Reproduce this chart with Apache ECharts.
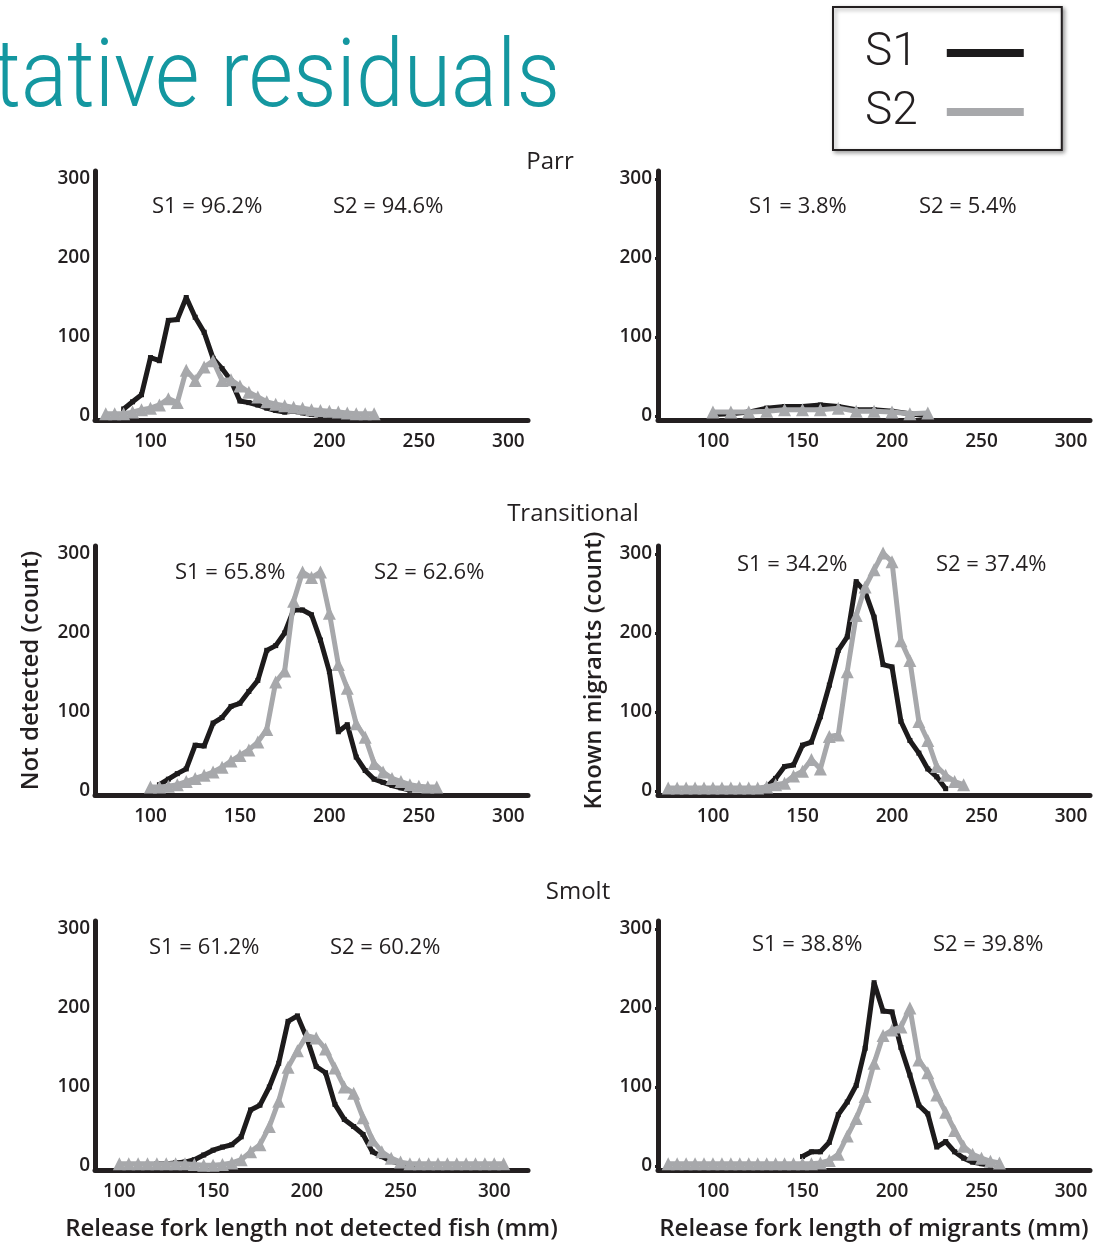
<!DOCTYPE html>
<html>
<head>
<meta charset="utf-8">
<script src="https://cdn.jsdelivr.net/npm/echarts@6.0.0/dist/echarts.min.js"></script>
<style>
html, body { margin: 0; padding: 0; background: #fff; }
#chart { width: 1097px; height: 1243px; }
</style>
</head>
<body>
<div id="chart"></div>
<script>
// fork length bins (mm) and counts
let parrNdBins = [75, 80, 85, 90, 95, 100, 105, 110, 115, 120, 125, 130, 135, 140, 145, 150, 155, 160, 165, 170, 175, 180, 185, 190, 195, 200, 205, 210, 215, 220, 225]
let parrNdS1 = [null, null, 9, 18, 27, 74, 70, 121, 122, 150, 125, 106, 73, 60, 45, 19, 17, 14, 10, 7, 5, 6, 4, 2, 1, 1, 0, 0, null, null, null]
let parrNdS2 = [3, 3, 3, 5, 8, 10, 14, 22, 17, 58, 45, 62, 70, 45, 46, 38, 30, 24, 18, 15, 13, 11, 10, 8, 7, 6, 5, 4, 3, 3, 3]

let parrMgBins = [100, 110, 120, 130, 140, 150, 160, 170, 180, 190, 200, 210, 220]
let parrMgS1 = [2, 3, 5, 10, 12, 12, 14, 12, 8, 8, 6, 3, 0]
let parrMgS2 = [5, 5, 5, 6, 8, 8, 8, 10, 6, 6, 5, 3, 4]

let tranNdBins = [100, 105, 110, 115, 120, 125, 130, 135, 140, 145, 150, 155, 160, 165, 170, 175, 180, 185, 190, 195, 200, 205, 210, 215, 220, 225, 230, 235, 240, 245, 250, 255, 260]
let tranNdS1 = [null, 8, 15, 22, 28, 58, 57, 86, 93, 107, 111, 126, 140, 178, 184, 200, 229, 229, 223, 191, 151, 75, 84, 43, 26, 15, 11, 7, 4, 1, null, null, null]
let tranNdS2 = [5, 5, 6, 8, 12, 16, 20, 24, 30, 38, 45, 52, 62, 78, 138, 152, 240, 277, 270, 277, 225, 160, 130, 85, 68, 35, 24, 16, 12, 8, 6, 5, 5]

let tranMgBins = [75, 80, 85, 90, 95, 100, 105, 110, 115, 120, 125, 130, 135, 140, 145, 150, 155, 160, 165, 170, 175, 180, 185, 190, 195, 200, 205, 210, 215, 220, 225, 230, 235, 240]
let tranMgS1 = [null, null, null, null, null, null, null, null, null, null, null, 5, 16, 31, 33, 58, 62, 94, 134, 178, 195, 265, 252, 220, 160, 157, 88, 64, 48, 28, 18, 3, null, null]
let tranMgS2 = [4, 4, 4, 4, 4, 4, 4, 4, 4, 4, 4, 5, 8, 10, 19, 25, 40, 28, 69, 71, 151, 222, 258, 280, 301, 290, 190, 165, 88, 64, 31, 20, 12, 8]

let smolNdBins = [100, 105, 110, 115, 120, 125, 130, 135, 140, 145, 150, 155, 160, 165, 170, 175, 180, 185, 190, 195, 200, 205, 210, 215, 220, 225, 230, 235, 240, 245, 250, 255, 260, 265, 270, 275, 280, 285, 290, 295, 300, 305]
let smolNdS1 = [null, null, null, null, 3, 3, 4, 5, 8, 14, 20, 24, 27, 37, 71, 77, 100, 130, 183, 190, 162, 126, 118, 78, 59, 50, 40, 18, 12, 6, 3, 1, 0, null, null, null, null, null, null, null, null, null]
let smolNdS2 = [3, 3, 3, 3, 3, 3, 3, 3, 2, 1, 1, 2, 4, 8, 18, 27, 50, 82, 125, 146, 165, 162, 148, 124, 100, 92, 61, 33, 18, 10, 5, 3, 3, 3, 3, 3, 3, 3, 3, 3, 3, 3]

let smolMgBins = [75, 80, 85, 90, 95, 100, 105, 110, 115, 120, 125, 130, 135, 140, 145, 150, 155, 160, 165, 170, 175, 180, 185, 190, 195, 200, 205, 210, 215, 220, 225, 230, 235, 240, 245, 250, 255, 260]
let smolMgS1 = [null, null, null, null, null, null, null, null, null, null, null, null, null, null, null, 12, 18, 18, 30, 65, 81, 102, 149, 232, 196, 195, 150, 115, 77, 66, 24, 31, 18, 10, 5, 3, 1, null]
let smolMgS2 = [3, 3, 3, 3, 3, 3, 3, 3, 3, 3, 3, 3, 3, 3, 3, 3, 3, 4, 7, 15, 38, 60, 88, 130, 165, 172, 176, 200, 134, 118, 90, 68, 45, 25, 15, 10, 6, 4]

let xTicks = [100, 150, 200, 250, 300]
let yTicks = [0, 100, 200, 300]
let stageNames = ['Parr', 'Transitional', 'Smolt']
let pctLabels = [
    ['S1 = 96.2%', 'S2 = 94.6%'], ['S1 = 3.8%', 'S2 = 5.4%'],
    ['S1 = 65.8%', 'S2 = 62.6%'], ['S1 = 34.2%', 'S2 = 37.4%'],
    ['S1 = 61.2%', 'S2 = 60.2%'], ['S1 = 38.8%', 'S2 = 39.8%']
]

let panels = [
    {bins: parrNdBins, s1: parrNdS1, s2: parrNdS2},
    {bins: parrMgBins, s1: parrMgS1, s2: parrMgS2},
    {bins: tranNdBins, s1: tranNdS1, s2: tranNdS2},
    {bins: tranMgBins, s1: tranMgS1, s2: tranMgS2},
    {bins: smolNdBins, s1: smolNdS1, s2: smolNdS2},
    {bins: smolMgBins, s1: smolMgS1, s2: smolMgS2}
]

// layout of the six plots
let boxes = [
    {left: 95, top: 171, width: 433, xMin: 69, xMax: 311},
    {left: 658, top: 171, width: 432, xMin: 69.3, xMax: 310.6},
    {left: 95, top: 546, width: 433, xMin: 69, xMax: 311},
    {left: 658, top: 546, width: 432, xMin: 69.3, xMax: 310.6},
    {left: 95, top: 921, width: 433, xMin: 87, xMax: 318},
    {left: 658, top: 921, width: 432, xMin: 69.3, xMax: 310.6}
]
let labelPos = [
    [[152, 207], [333, 207]], [[749, 207], [919, 207]],
    [[175, 573], [374, 573]], [[737, 565], [936, 565]],
    [[149, 948], [330, 948]], [[752, 945], [933, 945]]
]
let stagePos = [[550, 162], [573, 514], [578, 892]]

function pairs(bins, vals) {
    let out = []
    bins.forEach((b, i) => { if (vals[i] != null) out.push([b, vals[i]]) })
    return out
}

let tickFont = {fontFamily: 'Open Sans', fontSize: 19, fontWeight: 600, color: '#231f20'}
let nameFont = {fontFamily: 'Open Sans', fontSize: 24, fontWeight: 600, color: '#231f20'}

let grids = [], xAxes = [], yAxes = [], series = [], graphics = []
boxes.forEach((b, i) => {
    let right = i % 2 === 1
    grids.push({left: b.left, top: b.top, width: b.width, height: 249})
    let xa = {
        type: 'value', gridIndex: i, min: b.xMin, max: b.xMax,
        splitLine: {show: false},
        axisLine: {onZero: false, lineStyle: {color: '#231f20', width: 5}},
        axisTick: {show: false},
        axisLabel: Object.assign({customValues: xTicks, margin: 12}, tickFont)
    }
    if (i === 4) xa.name = 'Release fork length not detected fish (mm)'
    if (i === 5) xa.name = 'Release fork length of migrants (mm)'
    if (i >= 4) Object.assign(xa, {nameLocation: 'middle', nameGap: 47, nameTextStyle: nameFont})
    xAxes.push(xa)
    let ya = {
        type: 'value', gridIndex: i, min: -5, max: 310,
        splitLine: {show: false},
        axisLine: {show: true, onZero: false, lineStyle: {color: '#231f20', width: 5}},
        axisTick: {show: right, customValues: yTicks, length: 3, lineStyle: {width: 3, color: '#231f20'}},
        axisLabel: Object.assign({customValues: yTicks, margin: right ? 6 : 5}, tickFont)
    }
    if (i === 2) ya.name = 'Not detected (count)'
    if (i === 3) ya.name = 'Known migrants (count)'
    if (i === 2 || i === 3) Object.assign(ya, {nameLocation: 'middle', nameGap: 52, nameTextStyle: nameFont})
    yAxes.push(ya)

    series.push({
        name: 'S1', type: 'line', xAxisIndex: i, yAxisIndex: i,
        data: pairs(panels[i].bins, panels[i].s1),
        color: '#1d1b1c', symbol: 'rect', symbolSize: 5,
        lineStyle: {width: 5}, z: 2
    })
    series.push({
        name: 'S2', type: 'line', xAxisIndex: i, yAxisIndex: i,
        data: pairs(panels[i].bins, panels[i].s2),
        color: '#a7a8ab', symbol: 'triangle', symbolSize: 13,
        lineStyle: {width: 5}, z: 3
    })

    pctLabels[i].forEach((t, k) => {
        graphics.push({
            type: 'text', x: labelPos[i][k][0], y: labelPos[i][k][1],
            style: {text: t, fontFamily: 'Open Sans', fontSize: 22, fill: '#231f20', verticalAlign: 'middle'}
        })
    })
})

stageNames.forEach((t, i) => {
    graphics.push({
        type: 'text', x: stagePos[i][0], y: stagePos[i][1],
        style: {text: t, fontFamily: 'Open Sans', fontSize: 24, fill: '#231f20', align: 'center', verticalAlign: 'middle'}
    })
})

graphics.push({
    type: 'text', x: 560, y: 82, scaleX: 0.915,
    style: {
        text: 'Quantitative residuals', fontFamily: 'Roboto', fontWeight: 300, fontSize: 94,
        fill: '#1497a0', align: 'right', verticalAlign: 'middle'
    }
})

let chart = echarts.init(document.getElementById('chart'))
let option = {
    animation: false,
    backgroundColor: '#fff',
    legend: {
        data: [{name: 'S1', icon: 'rect'}, {name: 'S2', icon: 'rect'}],
        orient: 'vertical', left: 833, top: 7, align: 'right',
        itemWidth: 77, itemHeight: 8, itemGap: 7,
        padding: [20, 38, 12, 32],
        backgroundColor: '#fff', borderColor: '#231f20', borderWidth: 2,
        shadowColor: 'rgba(0,0,0,0.35)', shadowBlur: 4, shadowOffsetX: 2, shadowOffsetY: 2,
        selectedMode: false,
        textStyle: {fontFamily: 'Roboto', fontWeight: 300, fontSize: 46, lineHeight: 52, color: '#231f20', padding: [0, 24, 0, 0]}
    },
    grid: grids,
    xAxis: xAxes,
    yAxis: yAxes,
    series: series,
    graphic: graphics
}
chart.setOption(option)
</script>
</body>
</html>
